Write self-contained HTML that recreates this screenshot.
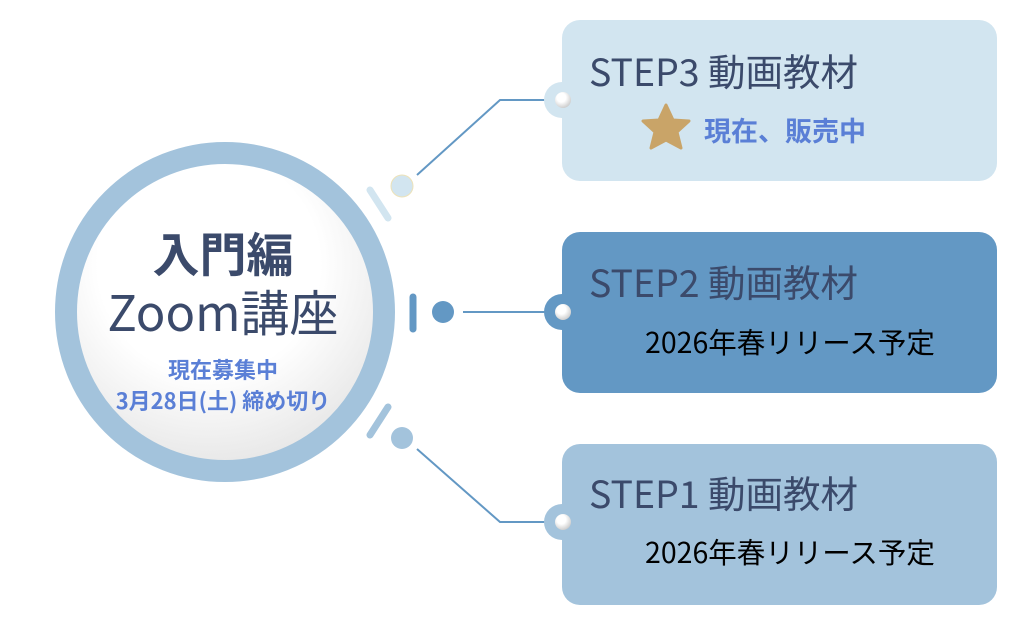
<!DOCTYPE html>
<html><head><meta charset="utf-8"><style>
body{margin:0;width:1024px;height:618px;background:#fff;position:relative;overflow:hidden;font-family:"Noto Sans CJK JP","Liberation Sans",sans-serif}
.box{position:absolute;left:562px;width:435px;height:161px;border-radius:18px}
.t{position:absolute;white-space:nowrap;line-height:1}
</style></head><body>
<svg width="1024" height="618" style="position:absolute;left:0;top:0">
<defs><radialGradient id="g" cx="0.45" cy="0.35" r="0.7"><stop offset="0.5" stop-color="#fff"/><stop offset="1" stop-color="#e2e2e2"/></radialGradient></defs>
<circle cx="225" cy="312" r="159" fill="url(#g)" stroke="#a3c3dc" stroke-width="22"/>
<polyline points="417,175 500,100 548,100" fill="none" stroke="#6398c4" stroke-width="2"/>
<line x1="463" y1="312" x2="548" y2="312" stroke="#6398c4" stroke-width="2"/>
<polyline points="417,449 500,522 548,522" fill="none" stroke="#6398c4" stroke-width="2"/>
<circle cx="402" cy="186" r="11" fill="#d2e5f0" stroke="#ede2b8" stroke-width="1"/>
<circle cx="443" cy="312" r="11" fill="#6398c4"/>
<circle cx="402" cy="438" r="11" fill="#a3c3dc"/>
<line x1="370" y1="190" x2="388" y2="218" stroke="#d2e5f0" stroke-width="7" stroke-linecap="round"/>
<line x1="413" y1="297" x2="413" y2="329" stroke="#6398c4" stroke-width="7" stroke-linecap="round"/>
<line x1="388" y1="407" x2="370" y2="435" stroke="#a3c3dc" stroke-width="7" stroke-linecap="round"/>
<circle cx="562" cy="100" r="18" fill="#d2e5f0"/>
<circle cx="562" cy="312" r="18" fill="#6398c4"/>
<circle cx="562" cy="522" r="18" fill="#a3c3dc"/>
</svg>
<div class="box" style="top:20px;background:#d2e5f0"></div>
<div class="box" style="top:232px;background:#6398c4"></div>
<div class="box" style="top:444px;background:#a3c3dc"></div>
<svg width="1024" height="618" style="position:absolute;left:0;top:0">
<defs><radialGradient id="w2" cx="0.4" cy="0.35" r="0.7"><stop offset="0.4" stop-color="#fff"/><stop offset="1" stop-color="#c8c8c8"/></radialGradient></defs>
<circle cx="563" cy="100" r="8" fill="url(#w2)"/>
<circle cx="563" cy="312" r="8" fill="url(#w2)"/>
<circle cx="563" cy="522" r="8" fill="url(#w2)"/>
<path d="M666,105 L673,120 L689,121 L677,132 L681,148 L666,140 L651,148 L655,132 L643,121 L659,120 Z" fill="#c9a468" stroke="#c9a468" stroke-width="3" stroke-linejoin="round"/>
</svg>
<div class="t" style="left:0;width:446px;top:228px;text-align:center;font-size:47px;font-weight:bold;color:#3b4a6b">入門編</div>
<div class="t" style="left:0;width:446px;top:286px;text-align:center;font-size:49px;color:#3b4a6b">Zoom講座</div>
<div class="t" style="left:0;width:446px;top:358px;text-align:center;font-size:22px;font-weight:bold;color:#5a7fd6">現在募集中</div>
<div class="t" style="left:0;width:446px;top:389px;text-align:center;font-size:22px;font-weight:bold;color:#5a7fd6">3月28日(土) 締め切り</div>
<div class="t" style="left:589px;top:51px;font-size:37.5px;color:#3b4a6b">STEP3 動画教材</div>
<div class="t" style="left:704px;top:116px;font-size:27px;font-weight:bold;color:#5a7fd6">現在、販売中</div>
<div class="t" style="left:589px;top:262px;font-size:37.5px;color:#3b4a6b">STEP2 動画教材</div>
<div class="t" style="left:645px;top:328px;font-size:28.5px;color:#000">2026年春リリース予定</div>
<div class="t" style="left:589px;top:473px;font-size:37.5px;color:#3b4a6b">STEP1 動画教材</div>
<div class="t" style="left:645px;top:538px;font-size:28.5px;color:#000">2026年春リリース予定</div>
</body></html>
